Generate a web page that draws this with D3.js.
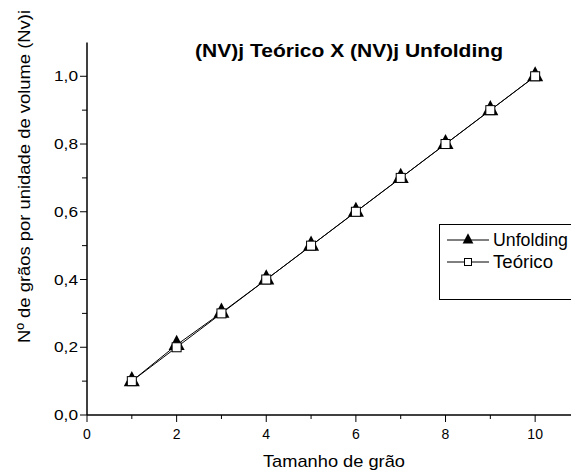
<!DOCTYPE html>
<html>
<head>
<meta charset="utf-8">
<script src="https://cdn.jsdelivr.net/npm/d3@7"></script>
<style>
  body { margin: 0; background: #fff; }
  svg text { font-family: "Liberation Sans", Arial, sans-serif; fill: #000; }
</style>
</head>
<body>
<div id="chart"></div>
<script>
// grain size classes and the two series
const sizes = [1, 2, 3, 4, 5, 6, 7, 8, 9, 10];
const unfolding = [0.1, 0.207, 0.302, 0.4, 0.5, 0.6, 0.7, 0.8, 0.9, 1.0];
const teorico = [0.1, 0.2, 0.3, 0.4, 0.5, 0.6, 0.7, 0.8, 0.9, 1.0];
const xTickLabels = [0, 2, 4, 6, 8, 10];
const yTickLabels = [0, 0.2, 0.4, 0.6, 0.8, 1.0];
const seriesNames = ["Unfolding", "Teórico"];

const width = 571, height = 473;

const svg = d3.select("#chart").append("svg")
  .attr("width", width)
  .attr("height", height);

const x = d3.scaleLinear().domain([0, 10.8]).range([87, 571]);
const y = d3.scaleLinear().domain([0, 1.1]).range([415, 42.4]);

const fmt = d => d3.format(".1f")(d).replace(".", ",");

// x axis: major ticks every 2, minor every 1
const xAxis = svg.append("g").attr("transform", "translate(0," + y(0) + ")");
xAxis.append("line").attr("x1", x(0)).attr("x2", width).attr("stroke", "#000").attr("stroke-width", 1.5);
xAxis.selectAll(".minor").data(d3.range(1, 11, 2)).enter().append("line")
  .attr("x1", d => x(d)).attr("x2", d => x(d)).attr("y1", 0).attr("y2", 4)
  .attr("stroke", "#000").attr("stroke-width", 1);
xAxis.selectAll(".major").data(xTickLabels).enter().append("line")
  .attr("x1", d => x(d)).attr("x2", d => x(d)).attr("y1", 0).attr("y2", 7)
  .attr("stroke", "#000").attr("stroke-width", 1);
xAxis.selectAll("text").data(xTickLabels).enter().append("text")
  .attr("x", d => x(d)).attr("y", 24)
  .attr("text-anchor", "middle").attr("font-size", 14)
  .text(d => d);

// y axis: major ticks every 0.2, minor every 0.1
const yAxis = svg.append("g").attr("transform", "translate(" + x(0) + ",0)");
yAxis.append("line").attr("y1", y(0)).attr("y2", y(1.1)).attr("stroke", "#000").attr("stroke-width", 1.5);
yAxis.selectAll(".minor").data(d3.range(0.1, 1.1, 0.2)).enter().append("line")
  .attr("y1", d => y(d)).attr("y2", d => y(d)).attr("x1", 0).attr("x2", -5)
  .attr("stroke", "#000").attr("stroke-width", 1);
yAxis.selectAll(".major").data(yTickLabels).enter().append("line")
  .attr("y1", d => y(d)).attr("y2", d => y(d)).attr("x1", 0).attr("x2", -7)
  .attr("stroke", "#000").attr("stroke-width", 1);
yAxis.selectAll("text").data(yTickLabels).enter().append("text")
  .attr("x", -9).attr("y", d => y(d) + 5)
  .attr("text-anchor", "end").attr("font-size", 14)
  .attr("textLength", 24).attr("lengthAdjust", "spacingAndGlyphs")
  .text(fmt);

// triangle shaped like Origin's, centred on its centroid
const triangle = {
  draw(ctx, size) {
    const w = Math.sqrt(size * 2.1), h = w * 0.95;
    ctx.moveTo(0, -h * 2 / 3);
    ctx.lineTo(w / 2, h / 3);
    ctx.lineTo(-w / 2, h / 3);
    ctx.closePath();
  }
};

const line = d3.line().x((d, i) => x(sizes[i])).y(d => y(d));

// Unfolding series
svg.append("path").datum(unfolding)
  .attr("d", line).attr("fill", "none").attr("stroke", "#000").attr("stroke-width", 1);
svg.selectAll(".tri").data(unfolding).enter().append("path")
  .attr("transform", (d, i) => "translate(" + x(sizes[i]) + "," + y(d) + ")")
  .attr("d", d3.symbol().type(triangle).size(122))
  .attr("fill", "#000");

// Teórico series
svg.append("path").datum(teorico)
  .attr("d", line).attr("fill", "none").attr("stroke", "#000").attr("stroke-width", 1);
svg.selectAll(".sq").data(teorico).enter().append("rect")
  .attr("x", (d, i) => x(sizes[i]) - 4.5).attr("y", d => y(d) - 4.5)
  .attr("width", 9).attr("height", 9)
  .attr("fill", "#fff").attr("stroke", "#000").attr("stroke-width", 1);

// title and axis titles
svg.append("text")
  .attr("x", 349).attr("y", 57)
  .attr("text-anchor", "middle").attr("font-size", 18).attr("font-weight", "bold")
  .attr("textLength", 308).attr("lengthAdjust", "spacingAndGlyphs")
  .text("(NV)j Teórico X (NV)j Unfolding");

svg.append("text")
  .attr("x", 334).attr("y", 467)
  .attr("text-anchor", "middle").attr("font-size", 17)
  .attr("textLength", 142).attr("lengthAdjust", "spacingAndGlyphs")
  .text("Tamanho de grão");

svg.append("text")
  .attr("transform", "translate(30,176.5) rotate(-90)")
  .attr("text-anchor", "middle").attr("font-size", 17)
  .attr("textLength", 333).attr("lengthAdjust", "spacingAndGlyphs")
  .text("Nº de grãos por unidade de volume (Nv)i");

// legend
const legend = svg.append("g");
legend.append("rect")
  .attr("x", 439.5).attr("y", 224.5).attr("width", 140).attr("height", 75)
  .attr("fill", "none").attr("stroke", "#000").attr("stroke-width", 1);
const rows = legend.selectAll(".row").data(seriesNames).enter().append("g")
  .attr("transform", (d, i) => "translate(0," + (240 + i * 22) + ")");
rows.append("line").attr("x1", 447).attr("x2", 489).attr("stroke", "#000").attr("stroke-width", 1);
rows.filter((d, i) => i === 0).append("path")
  .attr("transform", "translate(468,0)")
  .attr("d", d3.symbol().type(triangle).size(55))
  .attr("fill", "#000");
rows.filter((d, i) => i === 1).append("rect")
  .attr("x", 464.5).attr("y", -3.5).attr("width", 7).attr("height", 7)
  .attr("fill", "#fff").attr("stroke", "#000").attr("stroke-width", 1);
rows.append("text")
  .attr("x", 493).attr("y", 6)
  .attr("font-size", 18)
  .attr("textLength", (d, i) => i === 0 ? 75 : 60).attr("lengthAdjust", "spacingAndGlyphs")
  .text(d => d);
</script>
</body>
</html>
